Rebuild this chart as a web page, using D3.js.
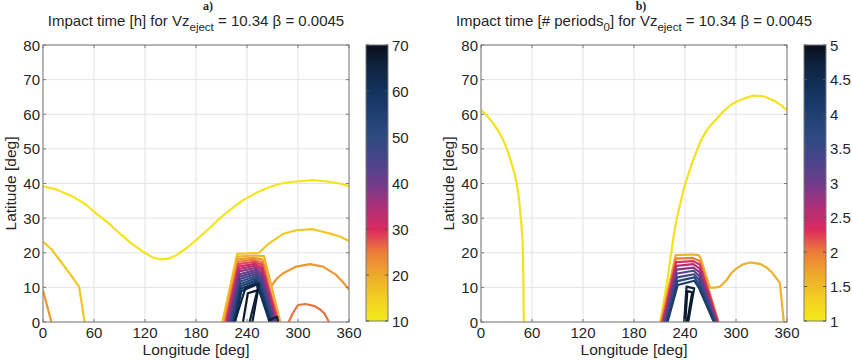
<!DOCTYPE html>
<html>
<head>
<meta charset="utf-8">
<script src="https://cdn.jsdelivr.net/npm/d3@7"></script>
<style>
  body { margin: 0; background: #fff; }
  svg { display: block; }
  text { font-family: "Liberation Sans", Arial, sans-serif; fill: #262626; }
</style>
</head>
<body>
<svg id="chart" width="852" height="360"></svg>
<script>

// ---- axis ticks
var lonTicks = [0, 60, 120, 180, 240, 300, 360];
var latTicks = [0, 10, 20, 30, 40, 50, 60, 70, 80];
var cbTicksA = [10, 20, 30, 40, 50, 60, 70];
var cbTicksB = [1, 1.5, 2, 2.5, 3, 3.5, 4, 4.5, 5];

// ---- colormap (fraction of colour range -> colour)
var cmapPos = [0, 0.08, 0.17, 0.25, 0.33, 0.42, 0.5, 0.58, 0.67, 0.75, 0.83, 0.92, 1];
var cmapCol = ["#f5ea18", "#f2d022", "#eea82c", "#ec7c3a", "#dc2a5e", "#a8307a", "#6e3b8a",
               "#4a448c", "#2c4a80", "#1e3f70", "#133360", "#0f2440", "#0a0f1c"];

// ---- panel a : contour levels [h] and lines [lon, lat]
var levelsA = [11, 16, 16, 22, 22, 25.5,
               19, 25, 28, 31, 34, 37, 40, 43, 46, 49, 52, 55, 58, 61,
               65, 68, 66];
var linesA = [
  [[0,39.2],[15.7,38.3],[35.3,36.2],[51,33.8],[62.7,31.3],[76.5,28.7],[90.2,25.6],[103.9,22.7],[117.6,20.3],[129.4,18.6],[139.2,18.1],[149,18.4],[156.9,19.3],[168.6,21.3],[180.4,23.7],[194.1,26.7],[207.8,29.9],[221.6,32.7],[235.3,35.2],[251,37.3],[266.7,39],[280.4,40],[294.1,40.5],[317.6,41],[337.3,40.5],[349,40],[360,39.2]],
  [[0,23.2],[10,21],[19.6,17.9],[30,14.5],[42.4,10.2],[49,0]],
  [[211,0],[228.5,19.7],[240,19.8],[254,20],[266,22.7],[282,25.4],[298,26.5],[317.6,26.8],[337,25.6],[350,24.6],[360,23.4]],
  [[0,9.2],[9.8,0]],
  [[213,0],[229.3,18.1],[248.4,18.6],[258.1,18.0],[268.6,10.4],[275,12.5],[282,14],[298,16],[314,16.7],[329.4,16],[345,13.6],[353,11.5],[360,9.4]],
  [[289,0],[294,2.6],[300,4.9],[309,5.2],[319.6,4.6],[326,3.6],[331,2.5],[336.5,0]],
  [[212,0],[229,18.9],[248.2,19.2],[260,19],[279.2,0]],
  [[214,0],[229.6,17.4],[248.6,18.0],[257.9,17.2],[277.4,0]],
  [[215,0],[229.9,16.7],[248.8,17.4],[257.7,16.5],[276.5,0]],
  [[216,0],[230.2,16.0],[249,16.8],[257.5,15.7],[275.6,0]],
  [[217,0],[230.5,15.3],[249.2,16.2],[257.3,15.0],[274.7,0]],
  [[218,0],[230.8,14.6],[249.4,15.6],[257.1,14.2],[273.8,0]],
  [[219,0],[231.1,13.8],[249.6,15.0],[256.9,13.5],[272.9,0]],
  [[220,0],[231.4,13.1],[249.8,14.4],[256.7,12.7],[272,0]],
  [[221,0],[231.7,12.4],[250,13.8],[256.5,12.0],[271.1,0]],
  [[222,0],[232,11.7],[250.2,13.2],[256.3,11.2],[270.2,0]],
  [[223,0],[232.3,11.0],[250.4,12.6],[256.1,10.5],[269.3,0]],
  [[224,0],[232.6,10.3],[250.6,12.0],[255.9,9.7],[268.4,0]],
  [[225,0],[232.9,9.6],[250.8,11.4],[255.7,9.0],[267.5,0]],
  [[226,0],[233.2,8.9],[251,10.8],[255.5,8.2],[266.6,0]],
  [[225.5,0],[238.4,10],[254,11],[243,0]],
  [[235.3,0],[241,8.3],[253,9.2],[246.3,0]],
  [[264.7,0.4],[275.3,1.5],[276.5,0]]
];

// ---- panel b : contour levels [# periods] and lines [lon, lat]
var levelsB = [1.1, 1.1, 1.6,
               2.0, 2.3, 2.6, 2.9, 3.2, 3.5, 3.8, 4.1,
               4.6, 4.9];
var linesB = [
  [[0,61.2],[7,59.6],[14.5,57.3],[20.5,55.1],[26.3,52.5],[31.5,49.3],[36,45.8],[39.5,42.8],[42,40],[44.3,36.3],[46,32.3],[47.8,27.5],[49,22.7],[49.6,17],[49.9,11.2],[50.3,0]],
  [[210.8,0],[214.5,5.2],[218.7,11.2],[222.5,17.8],[226.5,24.6],[230.2,29.8],[234.4,34.2],[239,38.8],[244.2,42.9],[249,46.4],[254,49.6],[259.5,52.8],[265.8,55.4],[271.5,57.2],[277.6,58.75],[285,60.8],[293.3,62.6],[301,63.7],[309,64.5],[320.8,65.4],[332.6,65.2],[344.3,64],[352,62.8],[360,61.2]],
  [[211.5,0],[229,19.3],[248,19.5],[256,19.3],[258.5,18.4],[269.3,9.9],[275,9.9],[281,10.2],[288.9,12.1],[294,14],[300.6,15.5],[308,16.6],[316.3,17.2],[328,16.8],[335,15.9],[341.8,14.5],[347,12.8],[351.6,11.2],[356.3,0]],
  [[212.5,0],[229.3,18.3],[249,18.5],[257.5,17.6],[279.5,0]],
  [[213.5,0],[229.6,17.3],[249.3,17.6],[257.3,16.6],[278.7,0]],
  [[214.5,0],[229.9,16.2],[249.6,16.7],[257.1,15.5],[277.9,0]],
  [[215.5,0],[230.2,15.1],[249.9,15.7],[256.9,14.4],[277.1,0]],
  [[216.5,0],[230.5,14.0],[250.2,14.8],[256.7,13.3],[276.3,0]],
  [[217.5,0],[230.8,12.9],[250.5,13.8],[256.5,12.2],[275.5,0]],
  [[218.5,0],[231.1,11.8],[250.8,12.9],[256.3,11.1],[274.7,0]],
  [[219.5,0],[231.4,10.7],[251.1,11.9],[256.1,10.0],[273.9,0]],
  [[239,0],[241.8,10.2],[250.8,9.7],[243.8,0]],
  [[240.3,0],[242.7,8.9],[248.5,8.6],[242.6,0]]
];

var svg = d3.select("#chart");
var defs = svg.append("defs");

var cmapScale = d3.scaleLinear().domain(cmapPos).range(cmapCol).clamp(true);

function drawPanel(o) {
  var x = d3.scaleLinear().domain([0, 360]).range([o.left, o.right]);
  var y = d3.scaleLinear().domain([0, 80]).range([o.bottom, o.top]);
  var g = svg.append("g");

  // grid
  g.selectAll(".gx").data(lonTicks).enter().append("line")
    .attr("x1", d => x(d)).attr("x2", d => x(d))
    .attr("y1", o.top).attr("y2", o.bottom)
    .attr("stroke", "#e3e3e3").attr("stroke-width", 1);
  g.selectAll(".gy").data(latTicks).enter().append("line")
    .attr("x1", o.left).attr("x2", o.right)
    .attr("y1", d => y(d)).attr("y2", d => y(d))
    .attr("stroke", "#e3e3e3").attr("stroke-width", 1);

  // contours
  defs.append("clipPath").attr("id", "clip" + o.id)
    .append("rect").attr("x", o.left).attr("y", o.top)
    .attr("width", o.right - o.left).attr("height", o.bottom - o.top);
  var line = d3.line().x(d => x(d[0])).y(d => y(d[1]));
  var cl = g.append("g").attr("clip-path", "url(#clip" + o.id + ")");
  cl.selectAll("path").data(d3.range(o.lines.length)).enter().append("path")
    .attr("d", i => line(o.lines[i]))
    .attr("fill", "none")
    .attr("stroke", i => cmapScale(o.norm(o.levels[i])))
    .attr("stroke-width", 2.2)
    .attr("stroke-linejoin", "round");

  // box and ticks
  g.append("rect").attr("x", o.left).attr("y", o.top)
    .attr("width", o.right - o.left).attr("height", o.bottom - o.top)
    .attr("fill", "none").attr("stroke", "#7a7a7a").attr("stroke-width", 1);
  g.selectAll(".tx").data(lonTicks).enter().append("path")
    .attr("d", d => "M" + x(d) + "," + o.bottom + "v-3M" + x(d) + "," + o.top + "v3")
    .attr("stroke", "#7a7a7a");
  g.selectAll(".ty").data(latTicks).enter().append("path")
    .attr("d", d => "M" + o.left + "," + y(d) + "h3M" + o.right + "," + y(d) + "h-3")
    .attr("stroke", "#7a7a7a");

  g.selectAll(".lx").data(lonTicks).enter().append("text")
    .attr("x", d => x(d)).attr("y", o.bottom + 16)
    .attr("text-anchor", "middle").attr("font-size", 15).text(d => d);
  g.selectAll(".ly").data(latTicks).enter().append("text")
    .attr("x", o.left - 3).attr("y", d => y(d) + 5.5)
    .attr("text-anchor", "end").attr("font-size", 15).text(d => d);

  g.append("text").attr("x", (o.left + o.right) / 2).attr("y", 355)
    .attr("text-anchor", "middle").attr("font-size", 15.5).text("Longitude [deg]");
  g.append("text")
    .attr("transform", "translate(" + (o.left - 27) + "," + ((o.top + o.bottom) / 2) + ") rotate(-90)")
    .attr("text-anchor", "middle").attr("font-size", 15.5).text("Latitude [deg]");

  // title with subscripts
  var t = g.append("text").attr("x", (o.left + o.right) / 2).attr("y", 26)
    .attr("text-anchor", "middle").attr("font-size", 15);
  var shift = 0;
  o.title.forEach(function (p) {
    var dy = (p[1] ? 5 : 0) - shift;
    shift = p[1] ? 5 : 0;
    t.append("tspan").attr("dy", dy).attr("font-size", p[1] ? 11.5 : 15).text(p[0]);
  });
  g.append("text").attr("x", o.tag).attr("y", 10)
    .attr("text-anchor", "middle").attr("font-size", 12).attr("font-weight", "bold")
    .style("font-family", "'Liberation Serif', 'Times New Roman', serif")
    .text(o.label);

  // colorbar
  var cy = d3.scaleLinear().domain(o.cbDomain).range([o.bottom - 1, o.top]);
  var grad = defs.append("linearGradient").attr("id", "grad" + o.id)
    .attr("x1", 0).attr("y1", 1).attr("x2", 0).attr("y2", 0);
  grad.selectAll("stop").data(cmapPos).enter().append("stop")
    .attr("offset", d => d).attr("stop-color", (d, i) => cmapCol[i]);
  g.append("rect").attr("x", o.cbx).attr("y", o.top)
    .attr("width", o.cbw).attr("height", o.bottom - 1 - o.top)
    .attr("fill", "url(#grad" + o.id + ")")
    .attr("stroke", "#7a7a7a").attr("stroke-width", 1);
  g.selectAll(".ct").data(o.cbTicks).enter().append("path")
    .attr("d", d => "M" + o.cbx + "," + cy(d) + "h3M" + (o.cbx + o.cbw) + "," + cy(d) + "h-3")
    .attr("stroke", "#555");
  g.selectAll(".cl").data(o.cbTicks).enter().append("text")
    .attr("x", o.cbx + o.cbw + 4).attr("y", d => cy(d) + 5.5)
    .attr("font-size", 15).text(d => d);
}

drawPanel({
  id: "a", left: 43, right: 349, top: 45, bottom: 322, cbx: 366, cbw: 22,
  lines: linesA, levels: levelsA, norm: v => (v - 10) / 60,
  cbDomain: [10, 70], cbTicks: cbTicksA,
  title: [["Impact time [h] for Vz", 0], ["eject", 1], [" = 10.34 \u03b2 = 0.0045", 0]],
  label: "a)", tag: 208
});
drawPanel({
  id: "b", left: 481, right: 787, top: 45, bottom: 322, cbx: 804, cbw: 22,
  lines: linesB, levels: levelsB, norm: v => (v - 1) / 4,
  cbDomain: [1, 5], cbTicks: cbTicksB,
  title: [["Impact time [# periods", 0], ["0", 1], ["] for Vz", 0], ["eject", 1], [" = 10.34 \u03b2 = 0.0045", 0]],
  label: "b)", tag: 641
});
</script>
</body>
</html>
